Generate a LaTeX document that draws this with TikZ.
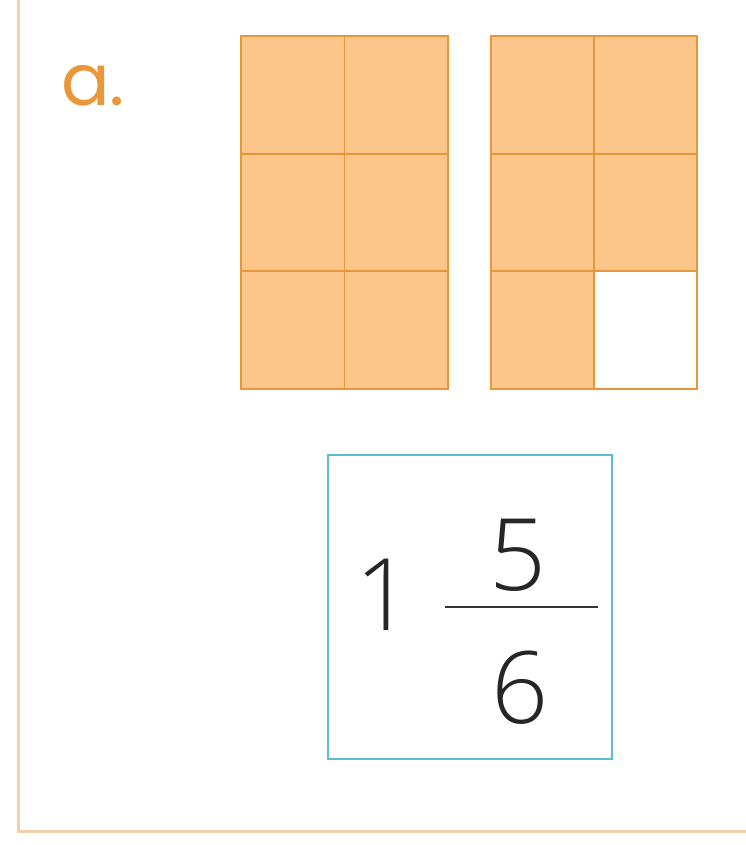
\documentclass[tikz,border=0pt]{standalone}
\usepackage{fontspec}
\setmainfont{Open Sans}
\newfontfamily\digitfont{Open Sans Light}
\newfontfamily\labelfont{Poppins}
\definecolor{cellfill}{HTML}{FCC68B}
\definecolor{cellline}{HTML}{E8963A}
\definecolor{frameline}{HTML}{F5CFA8}
\definecolor{boxline}{HTML}{5DBDD0}
\definecolor{labelcol}{HTML}{E9973A}
\begin{document}
\begin{tikzpicture}[x=1pt,y=-1pt,
  cellfillst/.style={fill=cellfill},
  gridline/.style={draw=cellline,line width=1.8pt},
  digit/.style={inner sep=0pt,font=\digitfont\fontsize{100}{100}\selectfont,text=black!85}]
\useasboundingbox (0,0) rectangle (746,845);
\fill[white] (0,0) rectangle (746,845);
% outer frame
\draw[frameline,line width=3pt] (18,-5) -- (18,831) -- (751,831);
% label
\node[text=labelcol,font=\labelfont\fontsize{72}{72}\selectfont,anchor=base west,inner sep=0pt] (lbl) at (61,106) {a.};
% grid 1
\fill[cellfillst] (241,36) rectangle (448,389);
\draw[gridline] (241,36) rectangle (448,389);
\draw[gridline] (344.5,36) -- (344.5,389);
\draw[gridline] (241,153.7) -- (448,153.7);
\draw[gridline] (241,271.3) -- (448,271.3);
% grid 2
\fill[cellfillst] (491,36) rectangle (697,389);
\fill[white] (594,271.3) rectangle (697,389);
\draw[gridline] (491,36) rectangle (697,389);
\draw[gridline] (594,36) -- (594,389);
\draw[gridline] (491,153.7) -- (697,153.7);
\draw[gridline] (491,271.3) -- (697,271.3);
% answer box
\node[draw=boxline,line width=1.8pt,minimum width=284pt,minimum height=304pt,inner sep=0pt] (box) at (470,607) {};
\node[digit] (one) at (384,595) {1};
\node[digit] (num) at (518,555) {5};
\node[digit] (den) at (520,688) {6};
\draw[black!80,line width=1.6pt] (445,607) -- (598,607);
\end{tikzpicture}
\end{document}
